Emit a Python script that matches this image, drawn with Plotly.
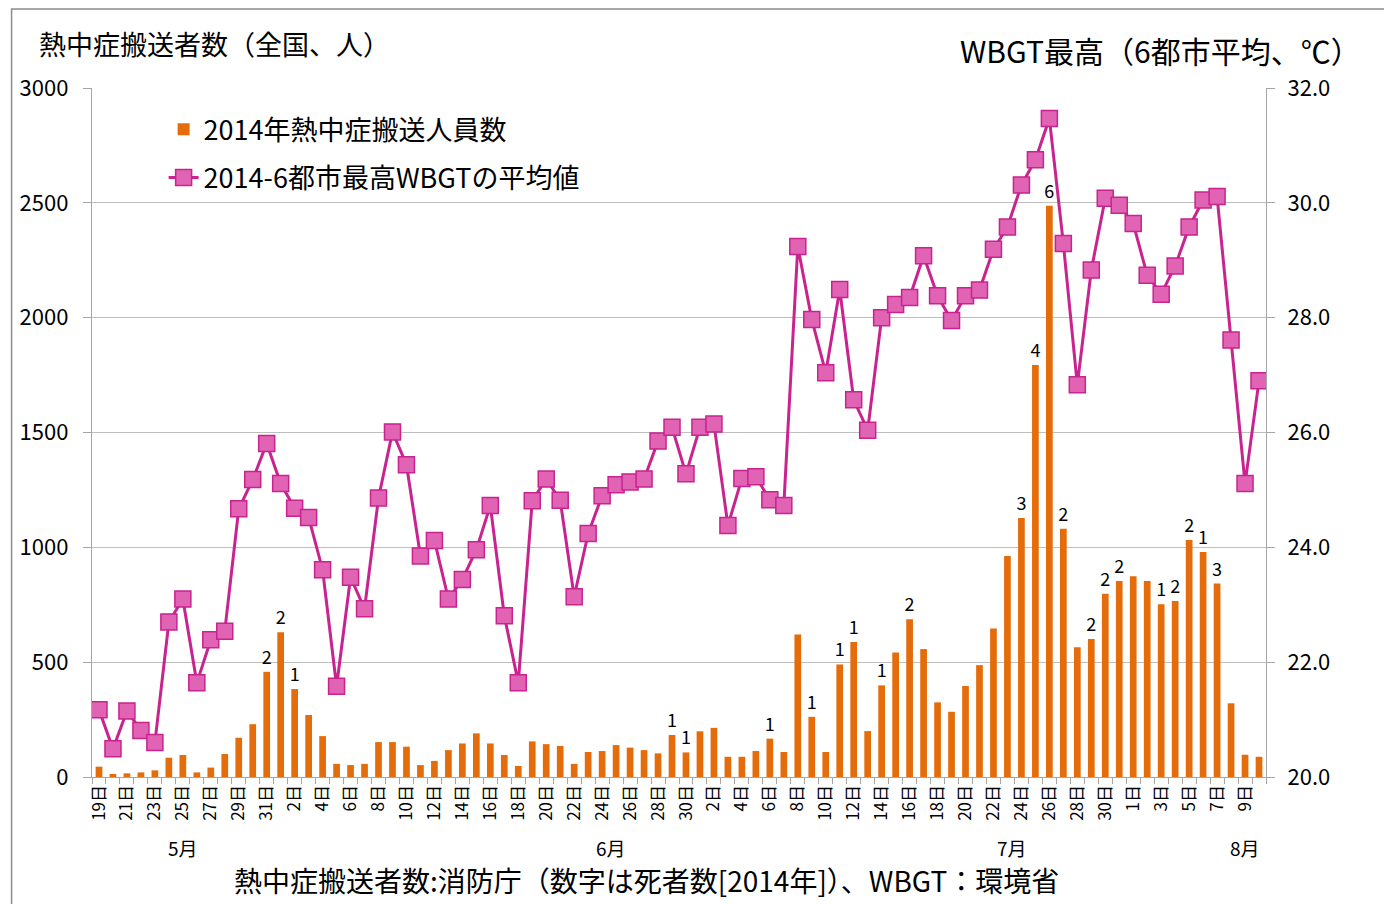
import pandas as pd
import plotly.graph_objects as go
from plotly.subplots import make_subplots

# ---- data ----
dates = pd.date_range("2014-05-19", "2014-08-10", freq="D")

patients_may = [45, 13, 16, 20, 29, 84, 96, 20, 41, 100, 171, 230, 458]
patients_jun = [630, 383, 270, 178, 57, 52, 57, 152, 152, 132,
                52, 70, 117, 146, 190, 146, 96, 48, 155, 143,
                135, 57, 109, 113, 139, 128, 117, 103, 183, 107]
patients_jul = [199, 214, 88, 88, 113, 167, 109, 620, 262, 109,
                490, 588, 200, 399, 542, 687, 557, 325, 284, 396,
                487, 647, 962, 1128, 1794, 2487, 1081, 565, 601, 798, 853]
patients_aug = [874, 853, 752, 766, 1032, 980, 842, 321, 97, 88]
patients = patients_may + patients_jun + patients_jul + patients_aug

wbgt_may = [21.17, 20.49, 21.15, 20.81, 20.60, 22.70, 23.10, 21.64, 22.39, 22.54,
            24.67, 25.18, 25.81]
wbgt_jun = [25.11, 24.68, 24.52, 23.61, 21.58, 23.48, 22.93, 24.86, 26.01, 25.44,
            23.85, 24.12, 23.10, 23.44, 23.96, 24.73, 22.81, 21.64, 24.81, 25.19,
            24.82, 23.14, 24.24, 24.90, 25.09, 25.14, 25.19, 25.85, 26.09, 25.28]
wbgt_jul = [26.09, 26.15, 24.38, 25.20, 25.23, 24.83, 24.73, 29.24, 27.97, 27.04,
            28.49, 26.57, 26.04, 28.00, 28.23, 28.35, 29.08, 28.38, 27.95, 28.38,
            28.48, 29.19, 29.58, 30.31, 30.75, 31.47, 29.29, 26.83, 28.83, 30.08, 29.96]
wbgt_aug = [29.64, 28.74, 28.41, 28.90, 29.58, 30.05, 30.11, 27.61, 25.11, 26.90]
wbgt = wbgt_may + wbgt_jun + wbgt_jul + wbgt_aug

# deaths (label above the bar) by date
deaths = {
    "2014-05-31": 2, "2014-06-01": 2, "2014-06-02": 1, "2014-06-29": 1, "2014-06-30": 1,
    "2014-07-06": 1, "2014-07-09": 1, "2014-07-11": 1, "2014-07-12": 1, "2014-07-14": 1,
    "2014-07-16": 2, "2014-07-24": 3, "2014-07-25": 4, "2014-07-26": 6, "2014-07-27": 2,
    "2014-07-29": 2, "2014-07-30": 2, "2014-07-31": 2, "2014-08-03": 1, "2014-08-04": 2,
    "2014-08-05": 2, "2014-08-06": 1, "2014-08-07": 3,
}

month_labels = ["5月", "6月", "7月", "8月"]
month_label_dates = ["2014-05-25", "2014-06-24 15:00", "2014-07-23 08:00", "2014-08-09"]

tick_dates = dates[::2]
tick_text = [f"{d.day}日" for d in tick_dates]

bar_name = "2014年熱中症搬送人員数"
line_name = "2014-6都市最高WBGTの平均値"
title_left = "熱中症搬送者数（全国、人）"
title_right = "WBGT最高（6都市平均、℃）"
source_text = "熱中症搬送者数:消防庁（数字は死者数[2014年]）、WBGT：環境省"

FONT = "Noto Sans CJK JP"
ORANGE = "#E46C0A"
MAGENTA = "#C8238F"
PINK = "#E063B4"
GRID = "#BFBFBF"
AXIS = "#A6A6A6"

labels = [str(deaths.get(d.strftime("%Y-%m-%d"), "")) for d in dates]

fig = make_subplots(specs=[[{"secondary_y": True}]])

fig.add_trace(go.Bar(
    x=dates, y=patients, name=bar_name, marker=dict(color=ORANGE, line=dict(width=0)),
    text=labels, textposition="outside", constraintext="none", cliponaxis=False,
    textfont=dict(size=18, color="black", family=FONT), legendgroup="a",
), secondary_y=False)

fig.add_trace(go.Scatter(
    x=dates, y=wbgt, name=line_name, mode="lines+markers",
    line=dict(color=MAGENTA, width=3),
    marker=dict(symbol="square", size=16, color=PINK, line=dict(color=MAGENTA, width=1.5)),
    legendgroup="b",
), secondary_y=True)

ann = [
    dict(text=title_left, x=-0.047, y=1.065, xref="paper", yref="paper",
         xanchor="left", yanchor="middle", showarrow=False, font=dict(size=27)),
    dict(text=title_right, x=1.083, y=1.055, xref="paper", yref="paper",
         xanchor="right", yanchor="middle", showarrow=False, font=dict(size=30)),
    dict(text=source_text, x=0.472, y=-0.1495, xref="paper", yref="paper",
         xanchor="center", yanchor="middle", showarrow=False, font=dict(size=28)),
]
for lab, d in zip(month_labels, month_label_dates):
    ann.append(dict(text=lab, x=d, y=-0.103, xref="x", yref="paper",
                    xanchor="center", yanchor="middle", showarrow=False, font=dict(size=19)))

fig.update_layout(
    width=1392, height=904,
    margin=dict(l=82, r=134, t=80, b=135),
    paper_bgcolor="white", plot_bgcolor="white",
    font=dict(family=FONT, color="black"),
    bargap=0.52,
    showlegend=True,
    legend=dict(x=0.061, y=0.975, xanchor="left", yanchor="top",
                font=dict(size=27), bgcolor="rgba(0,0,0,0)",
                tracegroupgap=10, itemsizing="trace"),
    annotations=ann,
    shapes=[dict(type="rect", xref="paper", yref="paper",
                 x0=-0.0685, x1=1.102, y0=-0.2, y1=1.1145,
                 line=dict(color="#8C8C8C", width=1.5), fillcolor="rgba(0,0,0,0)")],
)

fig.update_xaxes(
    type="date", domain=[0, 1],
    range=["2014-05-18 12:00", "2014-08-10 12:00"],
    tickmode="array", tickvals=tick_dates, ticktext=tick_text,
    tickangle=-90, tickfont=dict(size=17),
    ticks="", showgrid=False,
    showline=True, linecolor=AXIS, linewidth=1.3,
    minor=dict(ticks="outside", tick0="2014-05-18 12:00", dtick=86400000,
               ticklen=6, tickcolor=AXIS, showgrid=False),
)

fig.update_yaxes(
    range=[0, 3000], dtick=500, tickfont=dict(size=22),
    showgrid=True, gridcolor=GRID, gridwidth=1.3,
    showline=True, linecolor=AXIS, linewidth=1.3,
    ticks="outside", ticklen=8, tickcolor=AXIS, ticklabelstandoff=10,
    zeroline=False, secondary_y=False,
)
fig.update_yaxes(
    range=[20, 32], dtick=2, tickformat=".1f", tickfont=dict(size=22),
    showgrid=False, showline=True, linecolor=AXIS, linewidth=1.3,
    ticks="outside", ticklen=8, tickcolor=AXIS, ticklabelstandoff=8, zeroline=False,
    secondary_y=True,
)

fig.write_html("out.html")
